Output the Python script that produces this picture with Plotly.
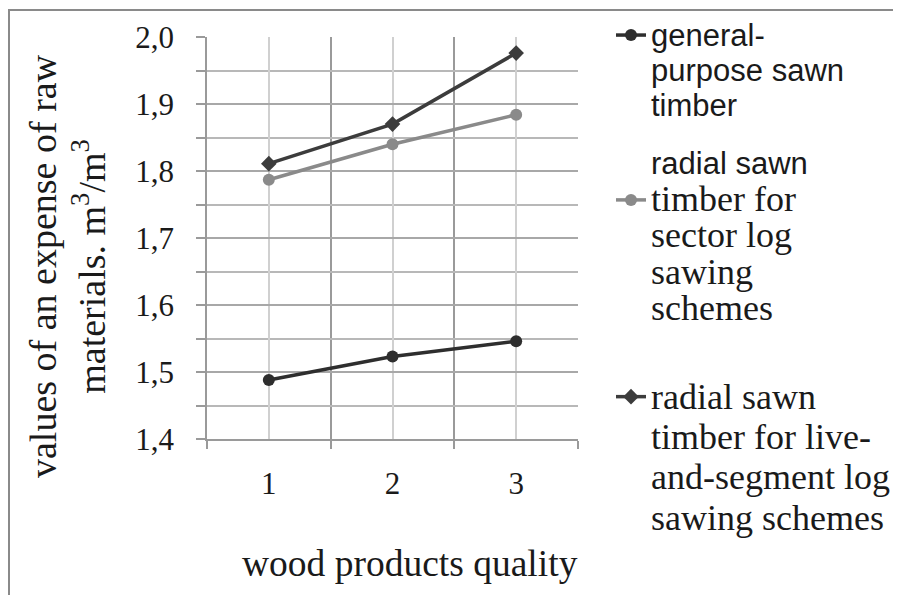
import plotly.graph_objects as go

# ---- data ----
quality = [1, 2, 3]
quality_labels = ["1", "2", "3"]
general_purpose = [1.488, 1.523, 1.546]
radial_sector = [1.787, 1.840, 1.884]
radial_live_segment = [1.811, 1.870, 1.976]

y_ticks = [1.4, 1.5, 1.6, 1.7, 1.8, 1.9, 2.0]
y_tick_labels = ["1,4", "1,5", "1,6", "1,7", "1,8", "1,9", "2,0"]
y_minor = [1.45, 1.55, 1.65, 1.75, 1.85, 1.95]
x_bounds = [0.5, 1.5, 2.5, 3.5]

name_general = ["general-", "purpose sawn", "timber"]
name_sector = ["radial sawn", "timber for", "sector log", "sawing", "schemes"]
name_live = ["radial sawn", "timber for live-", "and-segment log", "sawing schemes"]

x_title = "wood products quality"
y_title = "values of an expense of raw<br>materials. m<sup>3</sup>/m<sup>3</sup>"

SANS = "Liberation Sans"
SERIF = "Liberation Serif"


def span(txt, fam, size):
    return f"<span style='font-family:{fam};font-size:{size}px'>{txt}</span>"


leg1 = "<br>".join(span(t, SANS, 31) for t in name_general)
# two blank lead lines so that the (middle-aligned) key sits beside the 2nd text line
leg2 = "<br>".join(["\u00a0", "\u00a0", span(name_sector[0], SANS, 31)]
                   + [span(t, SERIF, 36) for t in name_sector[1:]])
leg3 = "<br>".join(span(t, SERIF, 36) for t in name_live)

fig = go.Figure()
fig.add_trace(go.Scatter(
    x=quality, y=general_purpose, mode="lines+markers", name=leg1,
    line=dict(color="#2e2e2e", width=3.5),
    marker=dict(symbol="circle", size=12, color="#2e2e2e"),
    legend="legend",
))
fig.add_trace(go.Scatter(
    x=quality, y=radial_sector, mode="lines+markers", name=leg2,
    line=dict(color="#8a8a8a", width=3.5),
    marker=dict(symbol="circle", size=12, color="#8a8a8a"),
    legend="legend2",
))
fig.add_trace(go.Scatter(
    x=quality, y=radial_live_segment, mode="lines+markers", name=leg3,
    line=dict(color="#3c3c3c", width=3.5),
    marker=dict(symbol="diamond", size=12, color="#3c3c3c"),
    legend="legend3",
))

OFF = 8  # page body margin
L, R, T, B = 207, 578, 37, 439  # plot area in page pixels
W, H = 901 - OFF, 595 - OFF
pw, ph = R - L, B - T


def px(xp):
    return (xp - L) / pw


def py(yp):
    return (B - yp) / ph


fig.update_layout(
    width=W, height=H,
    margin=dict(l=L - OFF, r=901 - R, t=T - OFF, b=595 - B, autoexpand=False),
    paper_bgcolor="white", plot_bgcolor="white",
    font=dict(family=SERIF, color="#1a1a1a"),
    showlegend=True,
    legend=dict(x=px(611), y=py(11), xanchor="left", yanchor="top", valign="top",
                font=dict(family=SANS, size=27, color="#1a1a1a"), bgcolor="rgba(0,0,0,0)"),
    legend2=dict(x=px(611), y=py(66), xanchor="left", yanchor="top", valign="middle",
                 font=dict(family=SERIF, size=28, color="#1a1a1a"), bgcolor="rgba(0,0,0,0)"),
    legend3=dict(x=px(611), y=py(370), xanchor="left", yanchor="top", valign="top",
                 font=dict(family=SERIF, size=31, color="#1a1a1a"), bgcolor="rgba(0,0,0,0)"),
    xaxis=dict(
        range=[0.5, 3.5], tickmode="array", tickvals=quality, ticktext=quality_labels,
        ticks="", ticklabelstandoff=16,
        tickfont=dict(family=SERIF, size=31, color="#1a1a1a"),
        showgrid=True, gridcolor="#d0d0d0", gridwidth=1.5, zeroline=False,
        showline=True, linecolor="#9a9a9a", linewidth=1.5,
        minor=dict(tickmode="array", tickvals=x_bounds, ticks="outside", ticklen=8,
                   tickcolor="#9a9a9a", tickwidth=1.5, showgrid=True,
                   gridcolor="#9a9a9a", gridwidth=1.5),
    ),
    yaxis=dict(
        range=[1.4, 2.0], tickmode="array", tickvals=y_ticks, ticktext=y_tick_labels,
        ticks="outside", ticklen=9, tickcolor="#9a9a9a", tickwidth=1.5,
        ticklabelstandoff=16,
        tickfont=dict(family=SERIF, size=31, color="#1a1a1a"),
        showgrid=True, gridcolor="#a8a8a8", gridwidth=1.5, zeroline=False,
        showline=True, linecolor="#9a9a9a", linewidth=1.5,
        minor=dict(tickmode="array", tickvals=y_minor, ticks="outside", ticklen=9,
                   tickcolor="#9a9a9a", tickwidth=1.5, showgrid=True,
                   gridcolor="#b8b8b8", gridwidth=1.5),
    ),
    annotations=[
        dict(text=x_title, xref="paper", yref="paper", x=px(410), y=py(563),
             xanchor="center", yanchor="middle", showarrow=False,
             font=dict(family=SERIF, size=37.5, color="#1a1a1a")),
        dict(text=y_title, xref="paper", yref="paper", x=px(67), y=py(266),
             xanchor="center", yanchor="middle", showarrow=False, textangle=-90,
             font=dict(family=SERIF, size=38, color="#1a1a1a")),
    ],
    shapes=[
        dict(type="rect", xref="paper", yref="paper",
             x0=px(9), x1=px(910), y0=py(10), y1=py(610),
             line=dict(color="#8a8a8a", width=2), fillcolor="rgba(0,0,0,0)", layer="below"),
    ],
)

fig.write_html("out.html")
